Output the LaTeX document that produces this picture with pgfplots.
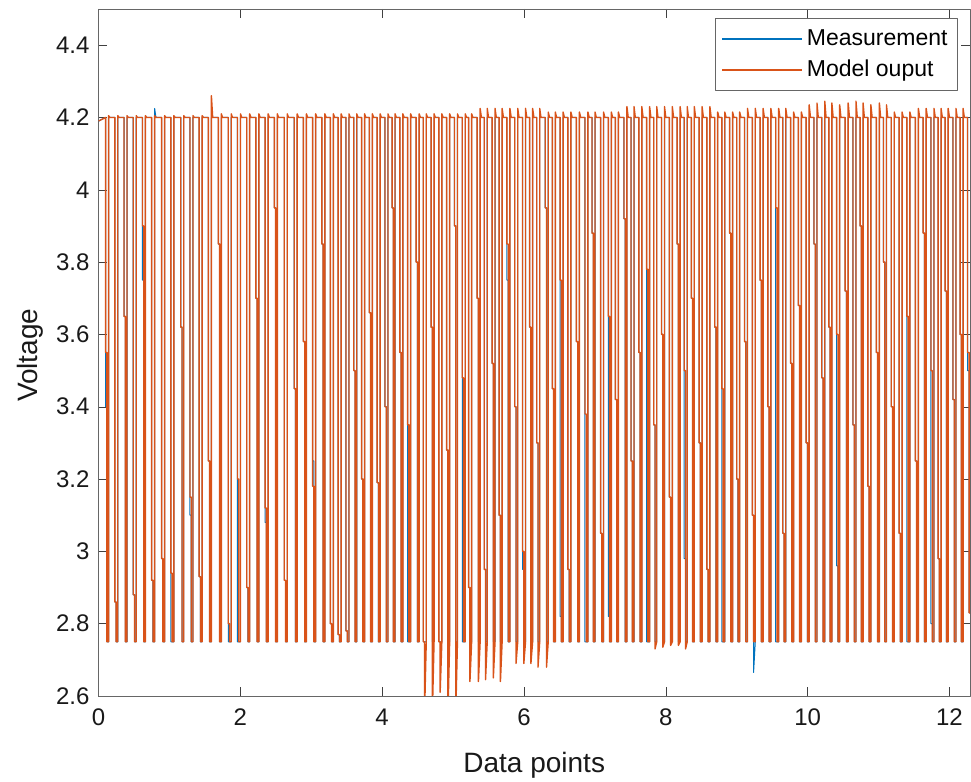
\documentclass[border=0pt]{standalone}
\usepackage{fontspec}
\setmainfont{Liberation Sans}
\usepackage{pgfplots}
\usepackage{pgfplotstable}
\pgfplotsset{compat=1.18}
\definecolor{mblue}{RGB}{0,114,189}
\definecolor{morange}{RGB}{217,83,25}
\pgfplotstableread{
x m o
0.000 4.19 4.19
0.100 4.20 4.20
0.100 3.40 3.55
0.118 3.40 3.55
0.118 2.75 2.75
0.142 2.75 2.75
0.142 4.20 4.205
0.160 4.20 4.20
0.230 4.20 4.20
0.230 2.86 2.86
0.248 2.86 2.86
0.248 2.75 2.75
0.272 2.75 2.75
0.272 4.20 4.205
0.290 4.20 4.20
0.360 4.20 4.20
0.360 3.65 3.65
0.378 3.65 3.65
0.378 2.75 2.75
0.402 2.75 2.75
0.402 4.20 4.205
0.420 4.20 4.20
0.490 4.20 4.20
0.490 2.88 2.88
0.508 2.88 2.88
0.508 2.75 2.75
0.532 2.75 2.75
0.532 4.20 4.205
0.550 4.20 4.20
0.620 4.20 4.20
0.620 3.75 3.90
0.638 3.75 3.90
0.638 2.75 2.75
0.662 2.75 2.75
0.662 4.20 4.205
0.680 4.20 4.20
0.750 4.20 4.20
0.750 2.92 2.92
0.768 2.92 2.92
0.768 2.75 2.75
0.792 2.75 2.75
0.792 4.225 4.205
0.810 4.20 4.20
0.890 4.20 4.20
0.890 2.98 2.98
0.908 2.98 2.98
0.908 2.75 2.75
0.932 2.75 2.75
0.932 4.20 4.205
0.950 4.20 4.20
1.020 4.20 4.20
1.020 2.75 2.94
1.038 2.75 2.94
1.038 2.75 2.75
1.062 2.75 2.75
1.062 4.20 4.205
1.080 4.20 4.20
1.160 4.20 4.20
1.160 3.62 3.62
1.178 3.62 3.62
1.178 2.75 2.75
1.202 2.75 2.75
1.202 4.20 4.205
1.220 4.20 4.20
1.290 4.20 4.20
1.290 3.10 3.15
1.308 3.10 3.15
1.308 2.75 2.75
1.332 2.75 2.75
1.332 4.20 4.205
1.350 4.20 4.20
1.420 4.20 4.20
1.420 2.93 2.93
1.438 2.93 2.93
1.438 2.75 2.75
1.462 2.75 2.75
1.462 4.20 4.205
1.480 4.20 4.20
1.550 4.20 4.20
1.550 3.25 3.25
1.568 3.25 3.25
1.568 2.75 2.75
1.592 2.75 2.75
1.592 4.20 4.26
1.610 4.20 4.20
1.690 4.20 4.20
1.690 3.85 3.85
1.708 3.85 3.85
1.708 2.75 2.75
1.732 2.75 2.75
1.732 4.20 4.21
1.750 4.20 4.20
1.830 4.20 4.20
1.830 2.75 2.80
1.848 2.75 2.80
1.848 2.75 2.75
1.872 2.75 2.75
1.872 4.20 4.21
1.890 4.20 4.20
1.960 4.20 4.20
1.960 2.75 3.20
1.978 2.75 3.20
1.978 2.75 2.75
2.002 2.75 2.75
2.002 4.20 4.21
2.020 4.20 4.20
2.090 4.20 4.20
2.090 2.90 2.90
2.108 2.90 2.90
2.108 2.75 2.75
2.132 2.75 2.75
2.132 4.20 4.21
2.150 4.20 4.20
2.220 4.20 4.20
2.220 3.70 3.70
2.238 3.70 3.70
2.238 2.75 2.75
2.262 2.75 2.75
2.262 4.20 4.21
2.280 4.20 4.20
2.350 4.20 4.20
2.350 3.08 3.12
2.368 3.08 3.12
2.368 2.75 2.75
2.392 2.75 2.75
2.392 4.20 4.21
2.410 4.20 4.20
2.480 4.20 4.20
2.480 3.95 3.95
2.498 3.95 3.95
2.498 2.75 2.75
2.522 2.75 2.75
2.522 4.20 4.21
2.540 4.20 4.20
2.620 4.20 4.20
2.620 2.92 2.92
2.638 2.92 2.92
2.638 2.75 2.75
2.662 2.75 2.75
2.662 4.20 4.21
2.680 4.20 4.20
2.760 4.20 4.20
2.760 3.45 3.45
2.778 3.45 3.45
2.778 2.75 2.75
2.802 2.75 2.75
2.802 4.20 4.21
2.820 4.20 4.20
2.890 4.20 4.20
2.890 3.58 3.58
2.908 3.58 3.58
2.908 2.75 2.75
2.932 2.75 2.75
2.932 4.20 4.21
2.950 4.20 4.20
3.020 4.20 4.20
3.020 3.25 3.18
3.038 3.25 3.18
3.038 2.75 2.75
3.062 2.75 2.75
3.062 4.20 4.21
3.080 4.20 4.20
3.150 4.20 4.20
3.150 3.85 3.85
3.168 3.85 3.85
3.168 2.75 2.75
3.192 2.75 2.75
3.192 4.20 4.21
3.210 4.20 4.20
3.270 4.20 4.20
3.270 2.80 2.80
3.288 2.80 2.80
3.288 2.75 2.75
3.312 2.75 2.75
3.312 4.20 4.21
3.330 4.20 4.20
3.380 4.20 4.20
3.380 2.77 2.77
3.398 2.77 2.77
3.398 2.75 2.75
3.422 2.75 2.75
3.422 4.20 4.21
3.440 4.20 4.20
3.490 4.20 4.20
3.490 2.78 2.78
3.508 2.78 2.78
3.508 2.75 2.75
3.532 2.75 2.75
3.532 4.20 4.21
3.550 4.20 4.20
3.600 4.20 4.20
3.600 3.50 3.50
3.618 3.50 3.50
3.618 2.75 2.75
3.642 2.75 2.75
3.642 4.20 4.21
3.660 4.20 4.20
3.710 4.20 4.20
3.710 3.20 3.20
3.728 3.20 3.20
3.728 2.75 2.75
3.752 2.75 2.75
3.752 4.20 4.21
3.770 4.20 4.20
3.820 4.20 4.20
3.820 3.66 3.66
3.838 3.66 3.66
3.838 2.75 2.75
3.862 2.75 2.75
3.862 4.20 4.21
3.880 4.20 4.20
3.930 4.20 4.20
3.930 3.19 3.19
3.948 3.19 3.19
3.948 2.75 2.75
3.972 2.75 2.75
3.972 4.20 4.21
3.990 4.20 4.20
4.040 4.20 4.20
4.040 3.40 3.40
4.058 3.40 3.40
4.058 2.75 2.75
4.082 2.75 2.75
4.082 4.20 4.21
4.100 4.20 4.20
4.140 4.20 4.20
4.140 3.95 3.95
4.158 3.95 3.95
4.158 2.75 2.75
4.182 2.75 2.75
4.182 4.20 4.21
4.200 4.20 4.20
4.250 4.20 4.20
4.250 3.55 3.55
4.268 3.55 3.55
4.268 2.75 2.75
4.292 2.75 2.75
4.292 4.20 4.21
4.310 4.20 4.20
4.360 4.20 4.20
4.360 2.75 3.35
4.378 2.75 3.35
4.378 2.75 2.75
4.402 2.75 2.75
4.402 4.20 4.21
4.420 4.20 4.20
4.480 4.20 4.20
4.480 3.80 3.80
4.498 3.80 3.80
4.498 2.75 2.75
4.522 2.75 2.75
4.522 4.20 4.21
4.540 4.20 4.20
4.580 4.20 4.20
4.580 2.75 2.75
4.598 2.75 2.75
4.598 2.75 2.55
4.622 2.75 2.75
4.622 4.20 4.21
4.640 4.20 4.20
4.690 4.20 4.20
4.690 3.62 3.62
4.708 3.62 3.62
4.708 2.75 2.55
4.732 2.75 2.75
4.732 4.20 4.21
4.750 4.20 4.20
4.800 4.20 4.20
4.800 2.75 2.75
4.818 2.75 2.75
4.818 2.75 2.61
4.842 2.75 2.75
4.842 4.20 4.21
4.860 4.20 4.20
4.910 4.20 4.20
4.910 3.28 3.28
4.928 3.28 3.28
4.928 2.75 2.55
4.952 2.75 2.75
4.952 4.20 4.21
4.970 4.20 4.20
5.020 4.20 4.20
5.020 3.90 3.90
5.038 3.90 3.90
5.038 2.75 2.55
5.062 2.75 2.75
5.062 4.20 4.21
5.080 4.20 4.20
5.130 4.20 4.20
5.130 2.75 3.48
5.148 2.75 3.48
5.148 2.75 2.75
5.172 2.75 2.75
5.172 4.20 4.21
5.190 4.20 4.20
5.220 4.20 4.20
5.220 2.90 2.90
5.238 2.90 2.90
5.238 2.75 2.64
5.262 2.75 2.75
5.262 4.20 4.21
5.280 4.20 4.20
5.340 4.20 4.20
5.340 3.70 3.70
5.358 3.70 3.70
5.358 2.75 2.64
5.382 2.75 2.75
5.382 4.20 4.225
5.400 4.20 4.20
5.440 4.20 4.20
5.440 2.95 2.95
5.458 2.95 2.95
5.458 2.75 2.645
5.482 2.75 2.75
5.482 4.20 4.225
5.500 4.20 4.20
5.550 4.20 4.20
5.550 3.52 3.52
5.568 3.52 3.52
5.568 2.75 2.65
5.592 2.75 2.75
5.592 4.20 4.225
5.610 4.20 4.20
5.650 4.20 4.20
5.650 3.10 3.10
5.668 3.10 3.10
5.668 2.75 2.64
5.692 2.75 2.75
5.692 4.20 4.225
5.710 4.20 4.20
5.760 4.20 4.20
5.760 3.75 3.85
5.778 3.75 3.85
5.778 2.75 2.75
5.802 2.75 2.75
5.802 4.20 4.225
5.820 4.20 4.20
5.870 4.20 4.20
5.870 3.40 3.40
5.888 3.40 3.40
5.888 2.75 2.69
5.912 2.75 2.75
5.912 4.20 4.225
5.930 4.20 4.20
5.980 4.20 4.20
5.980 2.95 3.00
5.998 2.95 3.00
5.998 2.75 2.69
6.022 2.75 2.75
6.022 4.20 4.225
6.040 4.20 4.20
6.080 4.20 4.20
6.080 3.62 3.62
6.098 3.62 3.62
6.098 2.75 2.69
6.122 2.75 2.75
6.122 4.20 4.225
6.140 4.20 4.20
6.180 4.20 4.20
6.180 3.30 3.30
6.198 3.30 3.30
6.198 2.75 2.68
6.222 2.75 2.75
6.222 4.20 4.225
6.240 4.20 4.20
6.300 4.20 4.20
6.300 3.95 3.95
6.318 3.95 3.95
6.318 2.75 2.68
6.342 2.75 2.75
6.342 4.20 4.215
6.360 4.20 4.20
6.400 4.20 4.20
6.400 3.45 3.45
6.418 3.45 3.45
6.418 2.75 2.75
6.442 2.75 2.75
6.442 4.20 4.215
6.460 4.20 4.20
6.510 4.20 4.20
6.510 2.82 3.75
6.528 2.82 3.75
6.528 2.75 2.75
6.552 2.75 2.75
6.552 4.20 4.215
6.570 4.20 4.20
6.620 4.20 4.20
6.620 2.95 2.95
6.638 2.95 2.95
6.638 2.75 2.75
6.662 2.75 2.75
6.662 4.20 4.215
6.680 4.20 4.20
6.740 4.20 4.20
6.740 3.58 3.58
6.758 3.58 3.58
6.758 2.75 2.75
6.782 2.75 2.75
6.782 4.20 4.215
6.800 4.20 4.20
6.860 4.20 4.20
6.860 2.75 3.38
6.878 2.75 3.38
6.878 2.75 2.75
6.902 2.75 2.75
6.902 4.20 4.215
6.920 4.20 4.20
6.960 4.20 4.20
6.960 3.88 3.88
6.978 3.88 3.88
6.978 2.75 2.75
7.002 2.75 2.75
7.002 4.20 4.215
7.020 4.20 4.20
7.080 4.20 4.20
7.080 3.05 3.05
7.098 3.05 3.05
7.098 2.75 2.75
7.122 2.75 2.75
7.122 4.20 4.215
7.140 4.20 4.20
7.190 4.20 4.20
7.190 2.82 3.65
7.208 2.82 3.65
7.208 2.75 2.75
7.232 2.75 2.75
7.232 4.20 4.215
7.250 4.20 4.20
7.290 4.20 4.20
7.290 3.42 3.42
7.308 3.42 3.42
7.308 2.75 2.75
7.332 2.75 2.75
7.332 4.20 4.215
7.350 4.20 4.20
7.410 4.20 4.20
7.410 3.92 3.92
7.428 3.92 3.92
7.428 2.75 2.75
7.452 2.75 2.75
7.452 4.20 4.23
7.470 4.20 4.20
7.510 4.20 4.20
7.510 3.25 3.25
7.528 3.25 3.25
7.528 2.75 2.75
7.552 2.75 2.75
7.552 4.20 4.23
7.570 4.20 4.20
7.620 4.20 4.20
7.620 3.55 3.55
7.638 3.55 3.55
7.638 2.75 2.75
7.662 2.75 2.75
7.662 4.20 4.23
7.680 4.20 4.20
7.730 4.20 4.20
7.730 2.75 3.78
7.748 2.75 3.78
7.748 2.75 2.75
7.772 2.75 2.75
7.772 4.20 4.23
7.790 4.20 4.20
7.830 4.20 4.20
7.830 3.35 3.35
7.848 3.35 3.35
7.848 2.75 2.73
7.872 2.75 2.75
7.872 4.20 4.23
7.890 4.20 4.20
7.940 4.20 4.20
7.940 3.60 3.60
7.958 3.60 3.60
7.958 2.75 2.735
7.982 2.75 2.75
7.982 4.20 4.23
8.000 4.20 4.20
8.050 4.20 4.20
8.050 3.15 3.15
8.068 3.15 3.15
8.068 2.75 2.74
8.092 2.75 2.75
8.092 4.20 4.23
8.110 4.20 4.20
8.160 4.20 4.20
8.160 3.85 3.85
8.178 3.85 3.85
8.178 2.75 2.74
8.202 2.75 2.75
8.202 4.20 4.23
8.220 4.20 4.20
8.260 4.20 4.20
8.260 2.98 3.50
8.278 2.98 3.50
8.278 2.75 2.73
8.302 2.75 2.75
8.302 4.20 4.23
8.320 4.20 4.20
8.360 4.20 4.20
8.360 3.70 3.70
8.378 3.70 3.70
8.378 2.75 2.75
8.402 2.75 2.75
8.402 4.20 4.23
8.420 4.20 4.20
8.470 4.20 4.20
8.470 3.30 3.30
8.488 3.30 3.30
8.488 2.75 2.75
8.512 2.75 2.75
8.512 4.20 4.23
8.530 4.20 4.20
8.580 4.20 4.20
8.580 2.95 2.95
8.598 2.95 2.95
8.598 2.75 2.75
8.622 2.75 2.75
8.622 4.20 4.23
8.640 4.20 4.20
8.690 4.20 4.20
8.690 3.62 3.62
8.708 3.62 3.62
8.708 2.75 2.75
8.732 2.75 2.75
8.732 4.20 4.215
8.750 4.20 4.20
8.790 4.20 4.20
8.790 2.75 3.45
8.808 2.75 3.45
8.808 2.75 2.75
8.832 2.75 2.75
8.832 4.20 4.215
8.850 4.20 4.20
8.900 4.20 4.20
8.900 3.88 3.88
8.918 3.88 3.88
8.918 2.75 2.75
8.942 2.75 2.75
8.942 4.20 4.215
8.960 4.20 4.20
9.000 4.20 4.20
9.000 3.20 3.20
9.018 3.20 3.20
9.018 2.75 2.75
9.042 2.75 2.75
9.042 4.20 4.215
9.060 4.20 4.20
9.110 4.20 4.20
9.110 3.58 3.58
9.128 3.58 3.58
9.128 2.75 2.75
9.152 2.75 2.75
9.152 4.20 4.225
9.170 4.20 4.20
9.220 4.20 4.20
9.220 3.10 3.10
9.238 3.10 3.10
9.238 2.665 2.75
9.262 2.75 2.75
9.262 4.20 4.225
9.280 4.20 4.20
9.330 4.20 4.20
9.330 3.75 3.75
9.348 3.75 3.75
9.348 2.75 2.75
9.372 2.75 2.75
9.372 4.20 4.225
9.390 4.20 4.20
9.440 4.20 4.20
9.440 3.40 3.40
9.458 3.40 3.40
9.458 2.75 2.75
9.482 2.75 2.75
9.482 4.20 4.225
9.500 4.20 4.20
9.550 4.20 4.20
9.550 2.75 3.95
9.568 2.75 3.95
9.568 2.75 2.75
9.592 2.75 2.75
9.592 4.20 4.225
9.610 4.20 4.20
9.650 4.20 4.20
9.650 3.05 3.05
9.668 3.05 3.05
9.668 2.75 2.75
9.692 2.75 2.75
9.692 4.20 4.225
9.710 4.20 4.20
9.760 4.20 4.20
9.760 3.52 3.52
9.778 3.52 3.52
9.778 2.75 2.75
9.802 2.75 2.75
9.802 4.20 4.215
9.820 4.20 4.20
9.870 4.20 4.20
9.870 3.68 3.68
9.888 3.68 3.68
9.888 2.75 2.75
9.912 2.75 2.75
9.912 4.20 4.215
9.930 4.20 4.20
9.980 4.20 4.20
9.980 3.30 3.30
9.998 3.30 3.30
9.998 2.75 2.75
10.022 2.75 2.75
10.022 4.20 4.235
10.040 4.20 4.20
10.090 4.20 4.20
10.090 3.85 3.85
10.108 3.85 3.85
10.108 2.75 2.75
10.132 2.75 2.75
10.132 4.20 4.24
10.150 4.20 4.20
10.200 4.20 4.20
10.200 3.48 3.48
10.218 3.48 3.48
10.218 2.75 2.75
10.242 2.75 2.75
10.242 4.20 4.245
10.260 4.20 4.20
10.300 4.20 4.20
10.300 3.62 3.62
10.318 3.62 3.62
10.318 2.75 2.75
10.342 2.75 2.75
10.342 4.20 4.24
10.360 4.20 4.20
10.410 4.20 4.20
10.410 2.96 3.60
10.428 2.96 3.60
10.428 2.75 2.75
10.452 2.75 2.75
10.452 4.20 4.235
10.470 4.20 4.20
10.530 4.20 4.20
10.530 3.72 3.72
10.548 3.72 3.72
10.548 2.75 2.75
10.572 2.75 2.75
10.572 4.20 4.24
10.590 4.20 4.20
10.640 4.20 4.20
10.640 3.35 3.35
10.658 3.35 3.35
10.658 2.75 2.75
10.682 2.75 2.75
10.682 4.20 4.245
10.700 4.20 4.20
10.740 4.20 4.20
10.740 3.90 3.90
10.758 3.90 3.90
10.758 2.75 2.75
10.782 2.75 2.75
10.782 4.20 4.24
10.800 4.20 4.20
10.850 4.20 4.20
10.850 3.18 3.18
10.868 3.18 3.18
10.868 2.75 2.75
10.892 2.75 2.75
10.892 4.20 4.235
10.910 4.20 4.20
10.970 4.20 4.20
10.970 3.55 3.55
10.988 3.55 3.55
10.988 2.75 2.75
11.012 2.75 2.75
11.012 4.20 4.24
11.030 4.20 4.20
11.070 4.20 4.20
11.070 3.80 3.80
11.088 3.80 3.80
11.088 2.75 2.75
11.112 2.75 2.75
11.112 4.20 4.235
11.130 4.20 4.20
11.180 4.20 4.20
11.180 3.40 3.40
11.198 3.40 3.40
11.198 2.75 2.75
11.222 2.75 2.75
11.222 4.20 4.215
11.240 4.20 4.20
11.290 4.20 4.20
11.290 3.05 3.05
11.308 3.05 3.05
11.308 2.75 2.75
11.332 2.75 2.75
11.332 4.20 4.215
11.350 4.20 4.20
11.400 4.20 4.20
11.400 2.75 3.65
11.418 2.75 3.65
11.418 2.75 2.75
11.442 2.75 2.75
11.442 4.20 4.215
11.460 4.20 4.20
11.520 4.20 4.20
11.520 3.25 3.25
11.538 3.25 3.25
11.538 2.75 2.75
11.562 2.75 2.75
11.562 4.20 4.225
11.580 4.20 4.20
11.630 4.20 4.20
11.630 3.88 3.88
11.648 3.88 3.88
11.648 2.75 2.75
11.672 2.75 2.75
11.672 4.20 4.225
11.690 4.20 4.20
11.740 4.20 4.20
11.740 2.80 3.50
11.758 2.80 3.50
11.758 2.75 2.75
11.782 2.75 2.75
11.782 4.20 4.225
11.800 4.20 4.20
11.840 4.20 4.20
11.840 2.98 2.98
11.858 2.98 2.98
11.858 2.75 2.75
11.882 2.75 2.75
11.882 4.20 4.225
11.900 4.20 4.20
11.940 4.20 4.20
11.940 3.72 3.72
11.958 3.72 3.72
11.958 2.75 2.75
11.982 2.75 2.75
11.982 4.20 4.225
12.000 4.20 4.20
12.050 4.20 4.20
12.050 3.42 3.42
12.068 3.42 3.42
12.068 2.75 2.75
12.092 2.75 2.75
12.092 4.20 4.225
12.110 4.20 4.20
12.150 4.20 4.20
12.150 3.60 3.60
12.168 3.60 3.60
12.168 2.75 2.75
12.192 2.75 2.75
12.192 4.20 4.225
12.210 4.20 4.20
12.255 4.20 4.20
12.255 3.50 3.55
12.278 3.50 3.55
12.278 2.83 2.83
12.300 2.83 2.83
}\voltdata
\begin{document}
\begin{tikzpicture}
\useasboundingbox (-49.25pt,-43pt) rectangle (436.25pt,348pt);
\begin{axis}[
  at={(0,0)}, anchor=south west,
  scale only axis, width=435.75pt, height=343.5pt,
  xmin=0, xmax=12.29, ymin=2.6, ymax=4.5,
  xtick={0,2,4,6,8,10,12},
  ytick={2.6,2.8,3,3.2,3.4,3.6,3.8,4,4.2,4.4},
  tick align=inside, major tick length=4.5pt,
  axis line style={black!60},
  tick style={black!75},
  /pgf/number format/assume math mode=true,
  ticklabel style={font=\fontsize{12}{14}\selectfont, text=black!90},
  xticklabel style={yshift=-3pt},
  yticklabel style={xshift=-1pt},
  xlabel={Data points}, ylabel={Voltage},
  label style={font=\fontsize{14}{16}\selectfont, text=black!90},
  xlabel style={at={(axis description cs:0.5,-0.1004)}, anchor=center},
  ylabel style={at={(axis description cs:-0.0785,0.496)}, anchor=center},
  legend style={at={(axis description cs:0.9862,0.9869)}, anchor=north east,
    draw=black!60, fill=white, font=\fontsize{11.5}{13}\selectfont,
    inner xsep=3pt, inner ysep=3.5pt, row sep=2pt,
    cells={anchor=west}},
  legend image code/.code={\draw[#1, line width=0.8pt] (0pt,0pt) -- (40pt,0pt);},
  line join=round,
]
\addplot[draw=mblue, line width=0.5pt] table[x=x, y=m]{\voltdata};
\addlegendentry{Measurement}
\addplot[draw=morange, line width=0.7pt] table[x=x, y=o]{\voltdata};
\addlegendentry{Model ouput}
\node[anchor=base east, font=\fontsize{12}{14}\selectfont, text=black!90] at (axis description cs:0.997,-0.0975) {×10\raisebox{0.45em}{\fontsize{9}{9}\selectfont 6}};
\end{axis}
\end{tikzpicture}
\end{document}
